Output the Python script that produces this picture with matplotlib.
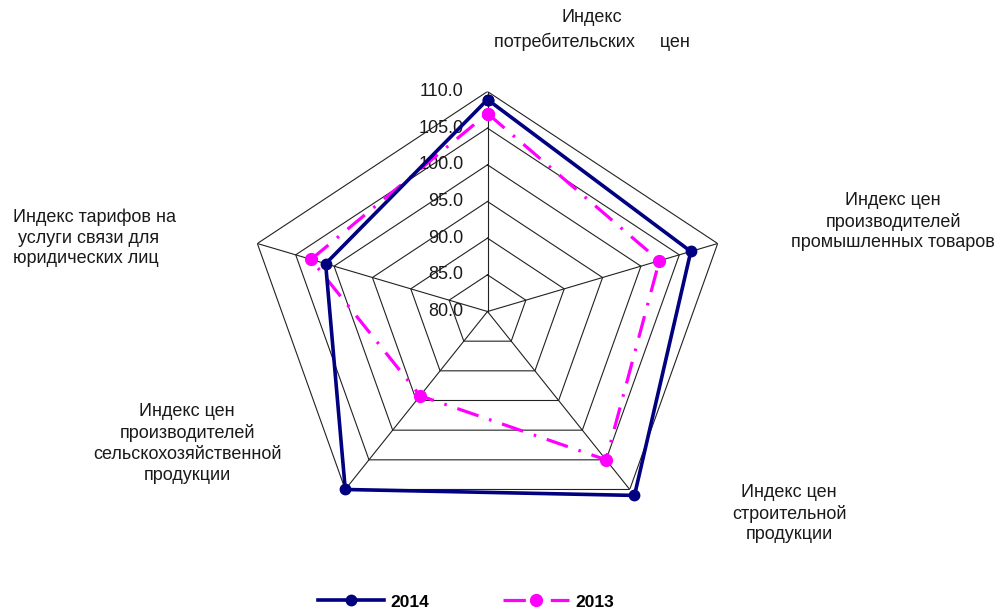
import numpy as np
import matplotlib
matplotlib.use("Agg")
import matplotlib.pyplot as plt

plt.rcParams['font.family'] = ['Liberation Sans', 'DejaVu Sans']

categories = [
    "Индекс\nпотребительских     цен",
    "Индекс цен\nпроизводителей\nпромышленных товаров",
    "Индекс цен\nстроительной\nпродукции",
    "Индекс цен\nпроизводителей\nсельскохозяйственной\nпродукции",
    "Индекс тарифов на\n услуги связи для\nюридических лиц",
]
values_2014 = [108.9, 106.5, 111.0, 110.0, 101.1]
values_2013 = [107.0, 102.4, 105.0, 94.2, 103.0]
ring_levels = [85.0, 90.0, 95.0, 100.0, 105.0, 110.0]
r_min, r_max = 80.0, 110.0
tick_values = [80.0, 85.0, 90.0, 95.0, 100.0, 105.0, 110.0]

W, H = 1005, 612
fig = plt.figure(figsize=(W / 100, H / 100), dpi=100)

cx, cy = 487.5, 311.5
rx, ry = 242, 220
ax = fig.add_axes([(cx - rx) / W, (H - cy - ry) / H, 2 * rx / W, 2 * ry / H],
                  projection='polar')
ax.set_aspect('auto')
ax.set_theta_zero_location('N')
ax.set_theta_direction(-1)
ax.set_ylim(r_min, r_max)
ax.grid(False)
ax.set_xticks([])
ax.set_yticks([])
ax.spines['polar'].set_visible(False)
ax.patch.set_alpha(0)

n = len(categories)
theta = np.arange(n) * 2 * np.pi / n
theta_closed = np.append(theta, theta[0])

# grid: rings and spokes
for lvl in ring_levels:
    ax.plot(theta_closed, [lvl] * (n + 1), color='#222222', lw=0.8, zorder=1)
for t in theta:
    ax.plot([t, t], [r_min, r_max], color='#222222', lw=0.8, zorder=1)

# tick labels along the top axis
for v in tick_values:
    ax.annotate(f"{v:.1f}", xy=(0, v), xytext=(-24, 0), textcoords='offset pixels',
                ha='right', va='center', fontsize=13, color='#1a1a1a',
                annotation_clip=False, zorder=2)

# data
l14, = ax.plot(theta_closed, values_2014 + values_2014[:1], color='#000080', lw=2.6,
               marker='o', markersize=7.5, label='2014', zorder=4, clip_on=False)
l13, = ax.plot(theta_closed, values_2013 + values_2013[:1], color='#FF00FF', lw=2.3,
               linestyle=(0, (7, 3.5, 0.8, 3.5)), marker='o', markersize=8.5,
               label='2013', zorder=3, clip_on=False)

# category labels
label_pos = [
    (592, 30, 'center', 1.45),
    (893, 221.5, 'center', 1.28),
    (789, 513.5, 'center', 1.28),
    (187, 443.5, 'center', 1.28),
    (13, 238, 'left', 1.28),
]
for text, (px, py, ha, ls) in zip(categories, label_pos):
    fig.text(px / W, 1 - py / H, text, ha=ha, va='center', multialignment=ha,
             fontsize=13, linespacing=ls, color='#1a1a1a')

leg = fig.legend(handles=[l14, l13], loc='center', bbox_to_anchor=(466 / W, 1 - 602 / H),
                 ncol=2, frameon=False, handlelength=3.8, handletextpad=0.35,
                 columnspacing=4.3, prop={'weight': 'bold', 'size': 12.5})

fig.savefig('out.png', dpi=100)
